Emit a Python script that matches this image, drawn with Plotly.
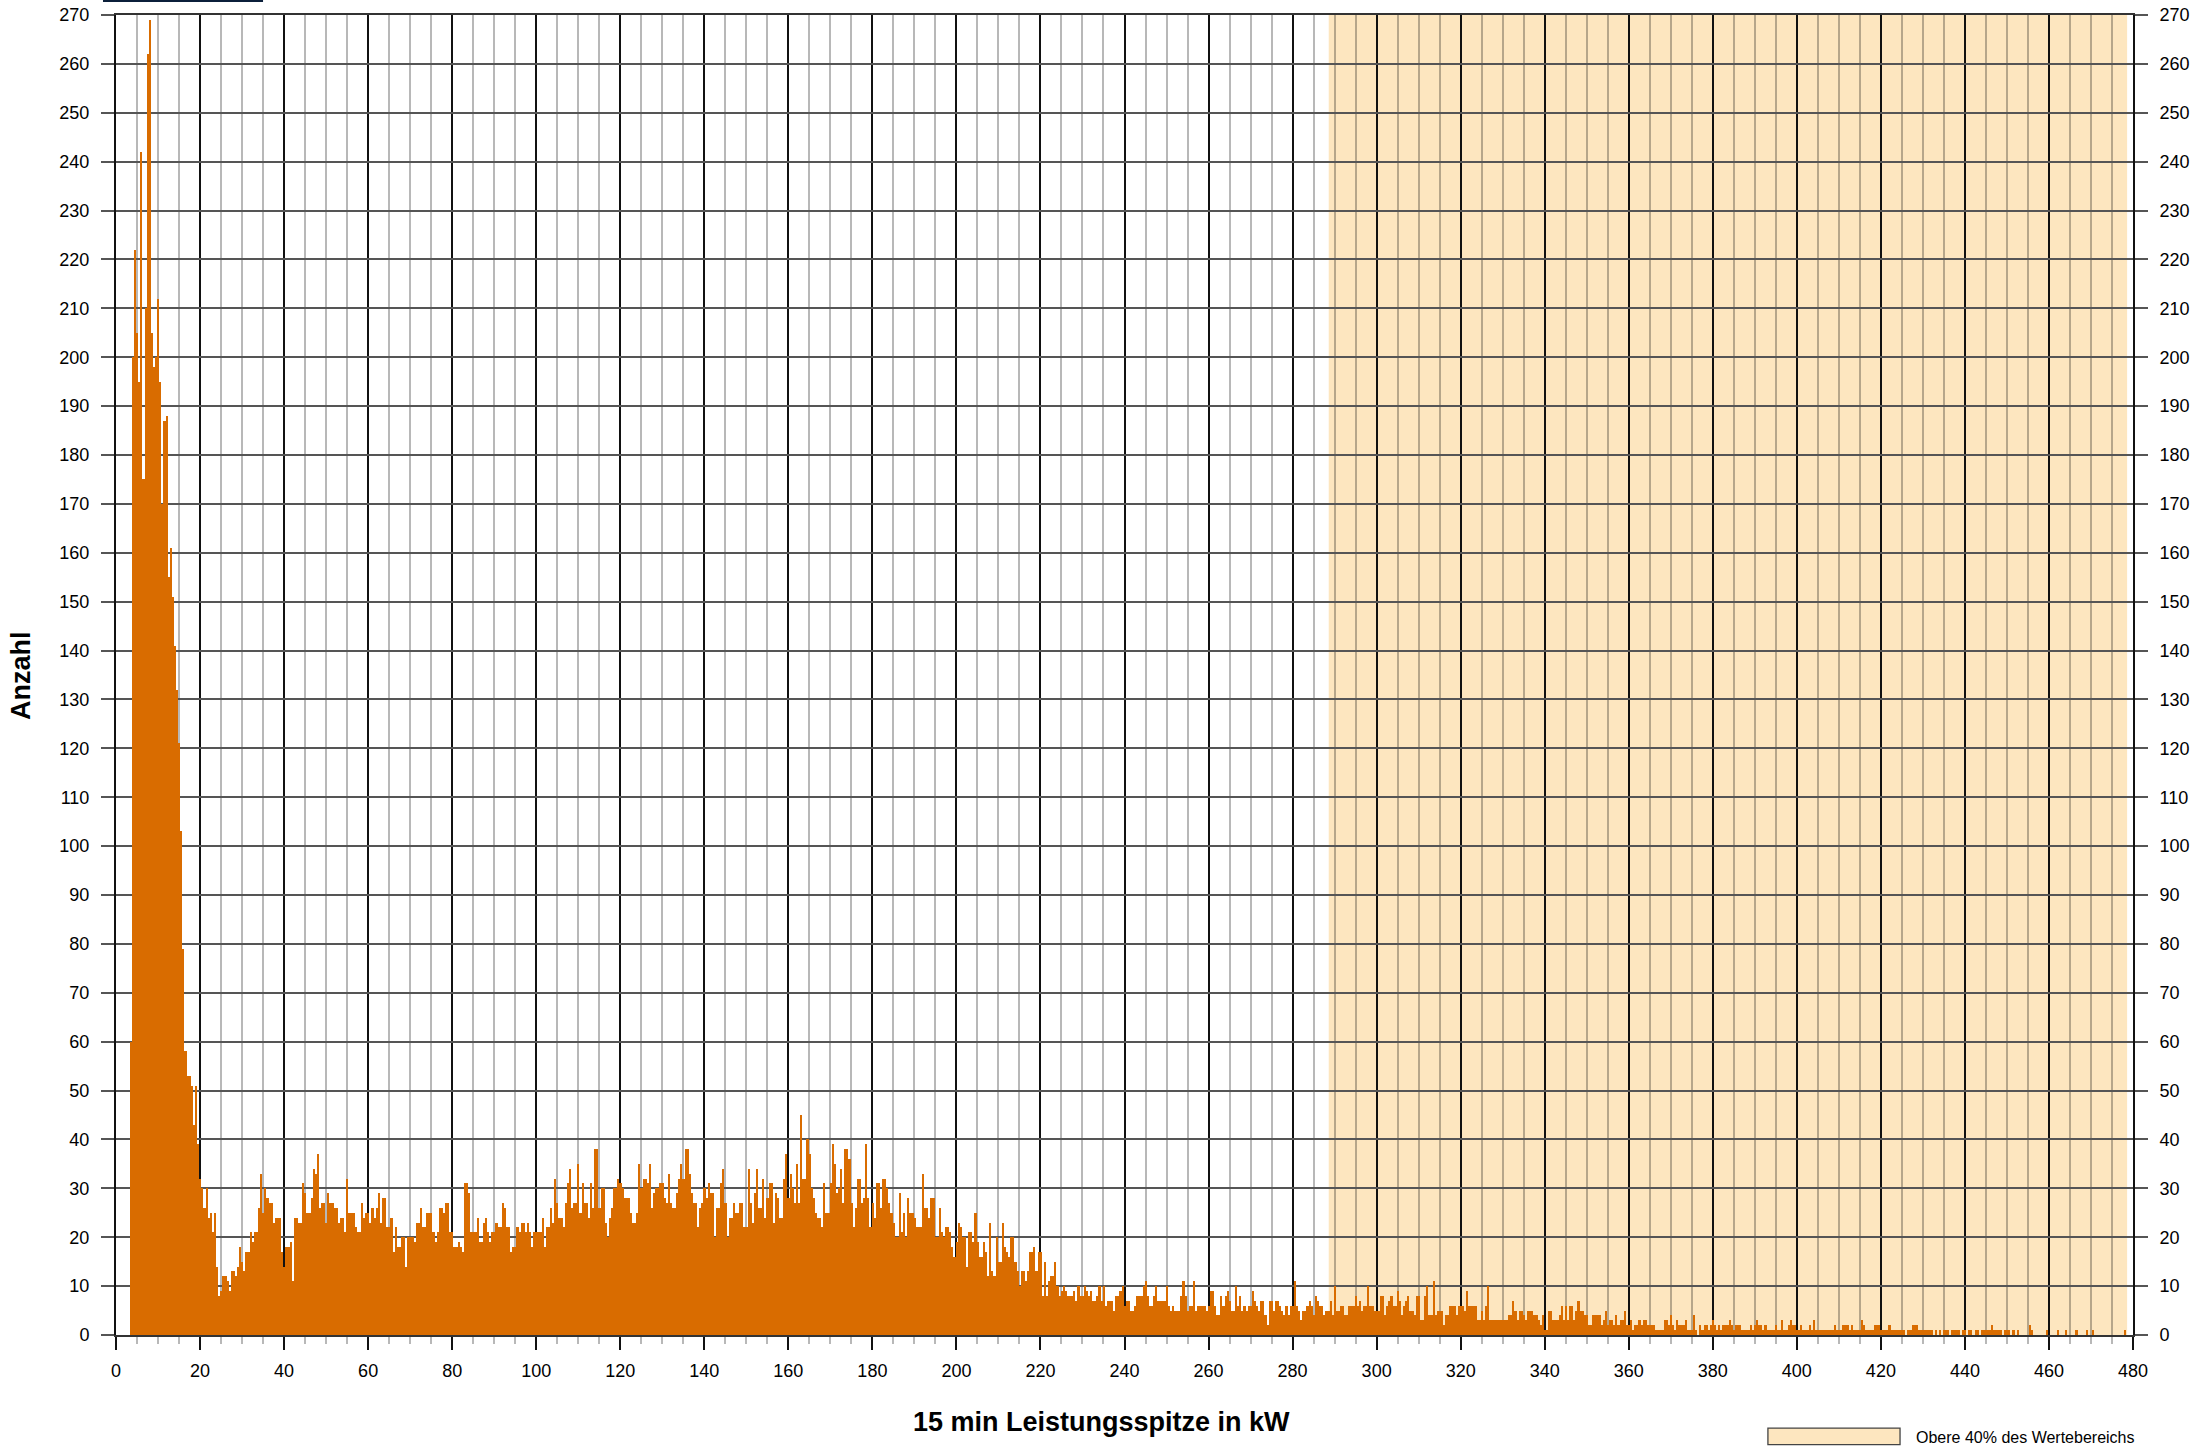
import plotly.graph_objects as go

# ---------------- data ----------------
# histogram of 15-min power peaks, bins of 0.5 kW starting at 3.3 kW
bin_start = 3.3
bin_width = 0.5

counts_peak = [  # 3.3 .. 23.3 kW
    60, 200, 222, 205, 195, 242, 175, 210, 262, 269, 205, 198, 200, 212, 195, 170, 187, 188, 155, 161,
    151, 141, 132, 121, 103, 79, 58, 53, 53, 51, 43, 51, 39, 32, 30, 26, 30, 24, 25, 21,
]
counts_body = [  # 23.3 .. 233.3 kW
    25, 14, 8, 9, 12, 12, 11, 9, 13, 13, 12, 14, 18, 15, 13, 17, 17, 21, 19, 21,
    21, 26, 33, 25, 30, 28, 27, 27, 23, 24, 24, 24, 17, 14, 18, 18, 19, 11, 24, 24,
    23, 23, 31, 29, 25, 25, 28, 34, 33, 37, 26, 27, 27, 23, 29, 27, 27, 26, 26, 23,
    24, 24, 21, 32, 25, 25, 25, 22, 21, 21, 27, 24, 25, 25, 23, 26, 24, 26, 29, 23,
    28, 28, 22, 22, 24, 17, 22, 18, 18, 20, 20, 14, 20, 20, 20, 19, 23, 23, 26, 22,
    22, 25, 25, 25, 21, 19, 21, 26, 26, 25, 27, 27, 21, 21, 18, 18, 19, 18, 17, 31,
    31, 29, 21, 21, 21, 24, 19, 19, 23, 24, 21, 19, 21, 21, 23, 22, 22, 27, 26, 22,
    22, 17, 18, 18, 22, 21, 23, 23, 21, 23, 21, 18, 21, 21, 21, 21, 24, 18, 22, 22,
    26, 23, 32, 27, 24, 24, 22, 27, 31, 34, 26, 27, 27, 35, 25, 31, 27, 27, 24, 31,
    26, 38, 38, 26, 30, 30, 23, 20, 24, 26, 30, 30, 32, 31, 30, 28, 28, 28, 25, 23,
    23, 25, 35, 30, 32, 32, 31, 35, 26, 29, 30, 30, 31, 31, 28, 27, 33, 27, 26, 26,
    29, 32, 35, 32, 38, 38, 33, 29, 27, 27, 22, 26, 27, 30, 28, 31, 29, 29, 20, 26,
    26, 31, 34, 27, 20, 24, 24, 27, 25, 25, 27, 27, 22, 22, 34, 27, 23, 29, 34, 26,
    26, 32, 24, 28, 31, 31, 23, 29, 28, 24, 24, 32, 37, 28, 33, 30, 27, 35, 27, 45,
    32, 32, 40, 37, 30, 28, 25, 24, 24, 22, 31, 25, 25, 31, 39, 35, 29, 30, 34, 27,
    38, 38, 36, 27, 22, 26, 32, 32, 27, 28, 39, 28, 22, 27, 24, 31, 31, 26, 32, 32,
    30, 27, 25, 23, 20, 20, 29, 21, 25, 20, 28, 25, 25, 24, 22, 22, 22, 33, 26, 26,
    24, 28, 28, 20, 20, 26, 21, 20, 22, 22, 21, 18, 16, 19, 23, 22, 20, 20, 14, 21,
    21, 19, 25, 19, 16, 16, 19, 17, 12, 23, 13, 12, 20, 15, 15, 23, 18, 17, 16, 20,
    20, 15, 13, 10, 13, 13, 11, 13, 17, 17, 18, 13, 17, 17, 8, 15, 8, 11, 12, 12,
    15, 10, 8, 9, 10, 9, 8, 8, 8, 9, 7, 10, 8, 8, 10, 9, 8, 9, 7, 7,
]
counts_tail = [  # 233.3 .. 478.3 kW
    8, 10, 7, 10, 6, 7, 7, 7, 5, 8, 8, 9, 10, 6, 7, 7, 5, 5, 6, 8,
    8, 8, 10, 11, 8, 6, 6, 8, 10, 7, 7, 7, 7, 10, 6, 5, 6, 5, 5, 5,
    8, 11, 8, 5, 6, 6, 11, 5, 6, 6, 6, 6, 5, 6, 9, 9, 6, 4, 4, 8,
    6, 8, 9, 7, 5, 5, 10, 6, 8, 5, 6, 5, 6, 6, 9, 7, 6, 5, 7, 7,
    4, 2, 7, 7, 5, 7, 7, 6, 5, 4, 6, 4, 6, 6, 11, 6, 5, 3, 5, 5,
    6, 7, 6, 4, 8, 7, 6, 6, 4, 5, 5, 7, 4, 10, 5, 5, 6, 6, 4, 4,
    6, 6, 6, 8, 6, 7, 5, 6, 6, 10, 6, 6, 5, 5, 5, 8, 8, 4, 6, 7,
    8, 6, 6, 9, 7, 4, 6, 7, 8, 5, 5, 4, 8, 8, 3, 3, 8, 10, 4, 4,
    11, 4, 5, 5, 5, 2, 4, 4, 6, 6, 6, 4, 6, 6, 6, 5, 9, 6, 6, 6,
    6, 3, 3, 5, 3, 6, 10, 3, 3, 3, 3, 3, 3, 3, 3, 3, 4, 4, 7, 5,
    3, 5, 5, 4, 3, 5, 5, 5, 4, 4, 3, 2, 4, 1, 1, 5, 5, 3, 3, 3,
    4, 6, 3, 6, 3, 6, 6, 3, 5, 7, 5, 5, 4, 4, 2, 2, 4, 4, 4, 4,
    2, 3, 5, 2, 3, 3, 2, 4, 2, 3, 3, 5, 2, 2, 3, 1, 2, 2, 3, 2,
    3, 3, 2, 2, 2, 2, 1, 1, 1, 1, 3, 3, 2, 4, 2, 1, 3, 2, 2, 2,
    3, 1, 1, 1, 4, 1, 0, 2, 1, 2, 2, 1, 2, 3, 2, 1, 2, 1, 2, 2,
    2, 3, 2, 1, 2, 2, 2, 1, 1, 1, 1, 2, 1, 2, 3, 2, 2, 1, 2, 1,
    1, 1, 1, 2, 1, 1, 3, 1, 1, 2, 3, 2, 2, 1, 1, 2, 1, 1, 1, 2,
    1, 3, 1, 1, 1, 1, 1, 1, 1, 1, 1, 2, 1, 1, 1, 2, 2, 2, 1, 2,
    1, 1, 1, 1, 3, 2, 1, 1, 1, 1, 2, 2, 2, 1, 1, 1, 1, 2, 1, 1,
    1, 1, 1, 1, 1, 0, 1, 1, 2, 2, 2, 1, 1, 1, 1, 1, 1, 1, 0, 1,
    0, 1, 0, 1, 1, 1, 0, 1, 1, 1, 1, 0, 1, 1, 0, 1, 1, 0, 1, 1,
    0, 1, 1, 1, 1, 1, 2, 1, 1, 1, 1, 0, 1, 1, 1, 0, 1, 0, 1, 0,
    0, 0, 0, 0, 2, 1, 0, 0, 0, 0, 0, 0, 1, 0, 0, 0, 0, 1, 0, 0,
    0, 1, 0, 0, 0, 0, 1, 0, 0, 0, 0, 1, 0, 0, 1, 0, 0, 0, 0, 0,
    0, 0, 0, 0, 0, 0, 0, 0, 0, 1,
]
counts = counts_peak + counts_body + counts_tail

# upper 40 % of value range (shaded band)
band_start = 288.6
band_end = 478.6

x_title = "15 min Leistungsspitze in kW"
y_title = "Anzahl"
legend_text = "Obere 40% des Wertebereichs"

x_range = [0, 480]
y_range = [0, 270]

# ---------------- figure ----------------
FONT = "Liberation Sans, Arial, sans-serif"
BAR = "#D96C00"
BAND = "#FDE6BF"

fig = go.Figure()
fig.add_trace(go.Bar(
    x0=bin_start + bin_width / 2, dx=bin_width, y=counts,
    marker=dict(color=BAR, line=dict(width=0)),
    showlegend=False, hoverinfo="skip",
))
# dummy trace for right-hand axis
fig.add_trace(go.Scatter(x=[None], y=[None], yaxis="y2", showlegend=False, hoverinfo="skip"))

fig.add_shape(type="rect", xref="x", yref="paper", x0=band_start, x1=band_end, y0=0, y1=1,
              fillcolor=BAND, line=dict(width=0), layer="below")

# legend entry (bottom right)
fig.add_shape(type="rect", xref="paper", yref="paper", x0=0.819, x1=0.8845, y0=-0.0830, y1=-0.0705,
              fillcolor=BAND, line=dict(color="#444", width=1.3))
fig.add_annotation(xref="paper", yref="paper", x=0.8914, y=-0.0773, text=legend_text,
                   showarrow=False, xanchor="left", yanchor="middle",
                   font=dict(family=FONT, size=16, color="black"))
# small dark bar at top-left
fig.add_shape(type="rect", xref="paper", yref="paper", x0=-0.00645, x1=0.0729, y0=1.0098, y1=1.0125,
              fillcolor="#0B1F3A", line=dict(width=0))

# axis titles
fig.add_annotation(xref="paper", yref="paper", x=0.4884, y=-0.0659, text="<b>" + x_title + "</b>",
                   showarrow=False, xanchor="center", yanchor="middle",
                   font=dict(family=FONT, size=27, color="black"))
fig.add_annotation(xref="paper", yref="paper", x=-0.0471, y=0.5, text="<b>" + y_title + "</b>",
                   showarrow=False, textangle=-90, xanchor="center", yanchor="middle",
                   font=dict(family=FONT, size=27, color="black"))

tickfont = dict(family=FONT, size=18, color="black")
fig.update_layout(
    width=2202, height=1446,
    margin=dict(l=116, r=69, t=15, b=111, autoexpand=False),
    paper_bgcolor="white", plot_bgcolor="white",
    bargap=0, barmode="overlay",
    font=dict(family=FONT, color="black"),
    xaxis=dict(
        range=x_range, tickmode="linear", tick0=0, dtick=20,
        showgrid=True, gridcolor="#111", gridwidth=2,
        ticks="outside", ticklen=13, tickwidth=2, tickcolor="#111",
        minor=dict(dtick=5, tick0=0, showgrid=True, gridcolor="rgba(0,0,0,0.28)", gridwidth=2,
                   ticks="outside", ticklen=7, tickwidth=2, tickcolor="rgba(0,0,0,0.28)"),
        showline=True, linecolor="#333", linewidth=2, mirror=True,
        zeroline=False, tickfont=tickfont, ticklabelstandoff=5,
    ),
    yaxis=dict(
        range=y_range, tickmode="linear", tick0=0, dtick=10,
        showgrid=True, gridcolor="#555", gridwidth=2,
        ticks="outside", ticklen=13, tickwidth=2, tickcolor="#555",
        showline=True, linecolor="#111", linewidth=2,
        zeroline=False, tickfont=tickfont, ticklabelstandoff=8,
    ),
    yaxis2=dict(
        range=y_range, overlaying="y", side="right", tickmode="linear", tick0=0, dtick=10,
        showgrid=False, ticks="outside", ticklen=13, tickwidth=2, tickcolor="#555",
        showline=True, linecolor="#111", linewidth=2,
        zeroline=False, tickfont=tickfont, ticklabelstandoff=8,
    ),
)

fig.write_html(
    "out.html",
    config={"displayModeBar": False},
    post_script="document.body.style.margin='0px';document.body.style.padding='0px';"
                "document.body.style.overflow='hidden';",
)
